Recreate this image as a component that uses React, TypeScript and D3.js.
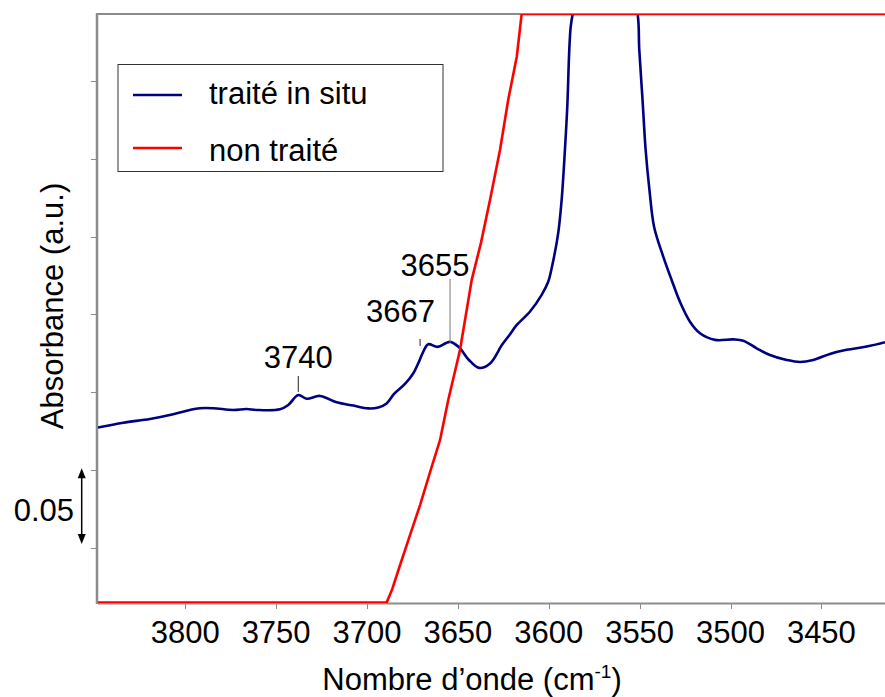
import React from "react";
import * as d3 from "d3";

// ---- data ----
const blueWn = [3848, 3834.1, 3819.4, 3806.6, 3797.4, 3791.9, 3784.6, 3773.6, 3766.2, 3760.7, 3747.9, 3743.3, 3737.8, 3733.2, 3725.9, 3716.7, 3707.5, 3699.3, 3693.8, 3689.2, 3685.1, 3679.1, 3674.5, 3671.8, 3669.0, 3666.3, 3661.2, 3654.3, 3649.4, 3643.9, 3638.4, 3632.3, 3625.7, 3621.3, 3617.6, 3610.3, 3603.9, 3600.3, 3598.2, 3594.8, 3592.9, 3591.1, 3589.8, 3588.7, 3587.9, 3586.8, 3580, 3568, 3558, 3551.1, 3550.2, 3548.4, 3546.7, 3544.6, 3542.0, 3537.0, 3532.4, 3527.8, 3522.3, 3516.8, 3508.5, 3498.5, 3493.0, 3485.6, 3478.3, 3469.1, 3461.8, 3454.5, 3445.3, 3436.1, 3425.1, 3415];
const blueAbs = [0.1274, 0.1305, 0.1329, 0.1359, 0.1387, 0.1398, 0.1398, 0.1387, 0.1393, 0.1387, 0.1391, 0.1419, 0.1483, 0.1459, 0.1477, 0.1436, 0.1415, 0.1397, 0.1403, 0.1429, 0.149, 0.1554, 0.1623, 0.1687, 0.1762, 0.1809, 0.1792, 0.1824, 0.1789, 0.1708, 0.1657, 0.1686, 0.1805, 0.1873, 0.1933, 0.2019, 0.2126, 0.221, 0.2308, 0.2523, 0.2737, 0.3058, 0.3336, 0.3701, 0.385, 0.3932, 0.43, 0.45, 0.43, 0.3932, 0.3701, 0.3379, 0.3058, 0.2800, 0.2560, 0.2372, 0.2222, 0.2081, 0.1954, 0.188, 0.1837, 0.184, 0.1832, 0.1783, 0.174, 0.1708, 0.1695, 0.1708, 0.1747, 0.1773, 0.1794, 0.1822];

const redWn = [3848, 3689.2, 3686.3, 3681.8, 3676.3, 3670.8, 3665.3, 3659.8, 3655.3, 3648.8, 3642.4, 3637.3, 3632.3, 3626.8, 3622.3, 3617.6, 3614.9, 3415];
const redAbs = [0.015, 0.015, 0.023, 0.0391, 0.0584, 0.0776, 0.0988, 0.1194, 0.1451, 0.1773, 0.2222, 0.246, 0.2737, 0.3058, 0.3379, 0.3656, 0.393, 0.393];

const xTicks = [3800, 3750, 3700, 3650, 3600, 3550, 3500, 3450];
const yTicks = [0.05, 0.1, 0.15, 0.2, 0.25, 0.3, 0.35];

const seriesNames = ["traité in situ", "non traité"];
const seriesColors = ["#000080", "#ff0000"];

const annotLabels = ["3740", "3667", "3655"];
const annotWn = [3737.8, 3670.8, 3654.3];
const annotTickLow = [0.1503, 0.1798, 0.1818];
const annotTickHigh = [0.1605, 0.1843, 0.2229];

const scaleBarFrom = 0.05;
const scaleBarTo = 0.1;
const scaleBarLabel = "0.05";

// ---- layout ----
const W = 885;
const H = 697;
const left = 98;
const right = 885;
const top = 14;
const bottom = 603;
const FONT = "'Liberation Sans', Arial, Helvetica, sans-serif";
const FS = 31;
const AXIS = "#8c8c8c";

export default function App() {
  const x = d3.scaleLinear().domain([3848, 3415]).range([left, right]);
  const y = d3.scaleLinear().domain([0.0147, 0.393]).range([bottom, top]);

  const blue = blueWn.map((w, i) => [w, blueAbs[i]] as [number, number]);
  const red = redWn.map((w, i) => [w, redAbs[i]] as [number, number]);
  const line = d3
    .line<[number, number]>()
    .x((d) => x(d[0]))
    .y((d) => y(d[1]))
    .curve(d3.curveCatmullRom.alpha(0.5));
  const lineLin = d3
    .line<[number, number]>()
    .x((d) => x(d[0]))
    .y((d) => y(d[1]));

  const arrowX = 81.7;
  const aTop = y(scaleBarTo) - 2;
  const aBot = y(scaleBarFrom) - 4;

  return (
    <div style={{ position: "fixed", left: 0, top: 0, width: W, height: H, background: "#fff" }}>
      <svg width={W} height={H} style={{ display: "block" }} fontFamily={FONT}>
        <defs>
          <clipPath id="plotclip">
            <rect x={left} y={top} width={right - left + 10} height={bottom - top} />
          </clipPath>
        </defs>
        <rect x={0} y={0} width={W} height={H} fill="#fff" />

        {/* frame */}
        <line x1={left} x2={W} y1={top} y2={top} stroke={AXIS} strokeWidth={2} />
        <line x1={left - 1} x2={left - 1} y1={top - 1} y2={bottom + 1} stroke={AXIS} strokeWidth={2.5} />
        <line x1={left} x2={W} y1={bottom + 0.5} y2={bottom + 0.5} stroke={AXIS} strokeWidth={2} />

        {/* y ticks */}
        {yTicks.map((t) => (
          <line key={"yt" + t} x1={left - 7} x2={left - 2} y1={Math.round(y(t)) + 0.5} y2={Math.round(y(t)) + 0.5} stroke={AXIS} strokeWidth={1} />
        ))}
        {/* x ticks */}
        {xTicks.map((t) => (
          <g key={"xt" + t}>
            <line x1={Math.round(x(t)) + 0.5} x2={Math.round(x(t)) + 0.5} y1={bottom + 1} y2={bottom + 6} stroke={AXIS} strokeWidth={1} />
            <text x={x(t)} y={643} textAnchor="middle" fontSize={FS} fill="#000">
              {t}
            </text>
          </g>
        ))}

        {/* series */}
        <g clipPath="url(#plotclip)">
          <path d={line(blue) || ""} fill="none" stroke={seriesColors[0]} strokeWidth={2.6} strokeLinejoin="round" />
          <path d={lineLin(red) || ""} fill="none" stroke={seriesColors[1]} strokeWidth={2.6} strokeLinejoin="round" />
        </g>

        {/* annotations */}
        {annotLabels.map((lab, i) => {
          const tx = x(annotWn[i]);
          const offs = [
            [0, 8],
            [-19.5, 17],
            [-15, 3],
          ][i];
          const yTop = y(annotTickHigh[i]);
          return (
            <g key={lab}>
              <line x1={tx} x2={tx} y1={yTop} y2={y(annotTickLow[i])} stroke={i === 2 ? "#777" : "#222"} strokeWidth={1} />
              <text x={tx + offs[0]} y={yTop - offs[1]} textAnchor="middle" fontSize={FS} fill="#000">
                {lab}
              </text>
            </g>
          );
        })}

        {/* scale bar */}
        <line x1={arrowX} x2={arrowX} y1={aTop + 6} y2={aBot - 6} stroke="#000" strokeWidth={1.5} />
        <path d={`M${arrowX},${aTop} L${arrowX - 4},${aTop + 10} L${arrowX + 4},${aTop + 10} Z`} fill="#000" />
        <path d={`M${arrowX},${aBot} L${arrowX - 4},${aBot - 10} L${arrowX + 4},${aBot - 10} Z`} fill="#000" />
        <text x={74} y={521} textAnchor="end" fontSize={FS} fill="#000">
          {scaleBarLabel}
        </text>

        {/* axis titles */}
        <text x={472} y={690} textAnchor="middle" fontSize={FS} fill="#000">
          Nombre d’onde (cm
          <tspan fontSize={19} dy={-12}>-1</tspan>
          <tspan dy={12}>)</tspan>
        </text>
        <text transform="translate(63,306) rotate(-90)" textAnchor="middle" fontSize={FS} fill="#000">
          Absorbance (a.u.)
        </text>

        {/* legend */}
        <rect x={118} y={64.5} width={325} height={107} fill="#fff" stroke="#333" strokeWidth={1} />
        {seriesNames.map((n, i) => {
          const ly = [95, 148][i];
          return (
            <g key={n}>
              <line x1={133} x2={182} y1={ly} y2={ly} stroke={seriesColors[i]} strokeWidth={2.6} />
              <text x={209} y={ly + [9, 13][i]} fontSize={FS} fill="#000">
                {n}
              </text>
            </g>
          );
        })}
      </svg>
    </div>
  );
}
